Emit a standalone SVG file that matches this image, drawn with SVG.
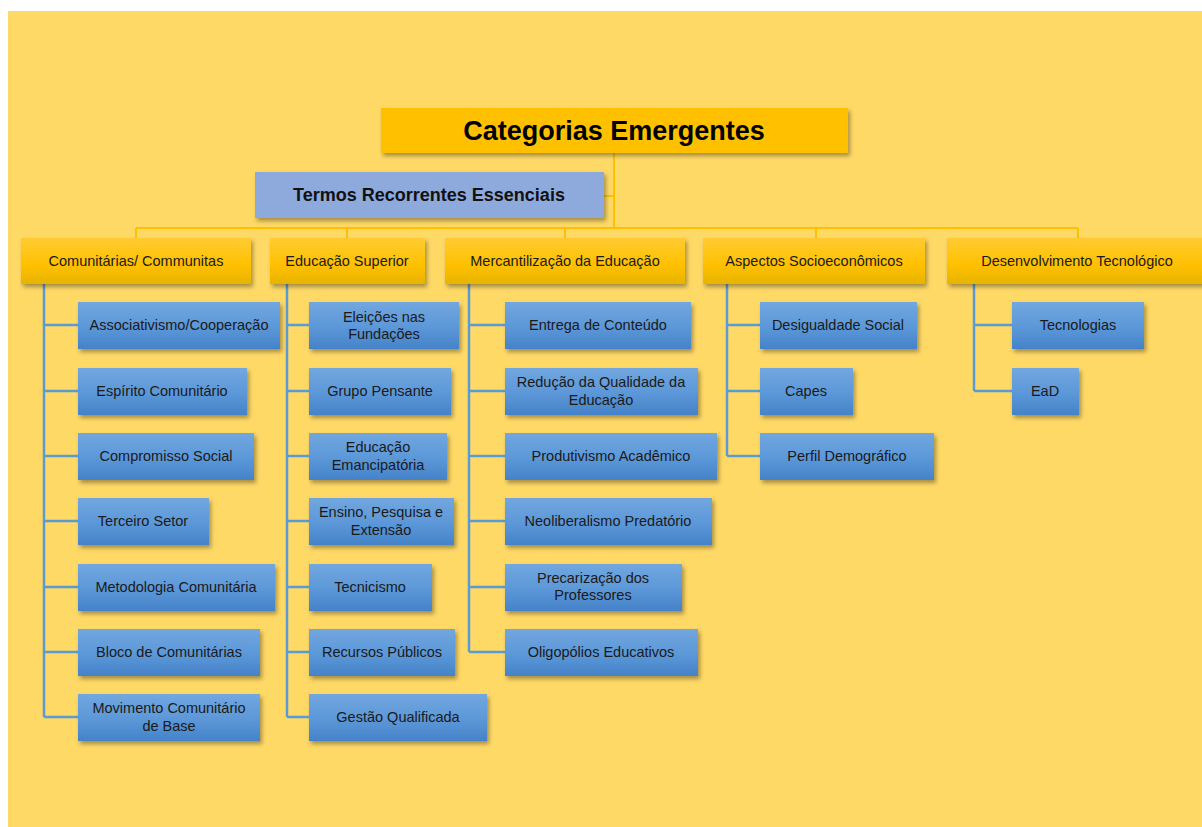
<svg xmlns="http://www.w3.org/2000/svg" width="1202" height="827" viewBox="0 0 1202 827">
<defs>
<linearGradient id="gy" x1="0" y1="0" x2="0" y2="1"><stop offset="0" stop-color="#FFCB33"/><stop offset="0.6" stop-color="#FFC000"/><stop offset="1" stop-color="#E6B400"/></linearGradient>
<linearGradient id="gb" x1="0" y1="0" x2="0" y2="1"><stop offset="0" stop-color="#72A7DF"/><stop offset="0.55" stop-color="#5B97D8"/><stop offset="1" stop-color="#4582C8"/></linearGradient>
<filter id="sh" x="-10%" y="-20%" width="125%" height="160%"><feDropShadow dx="2" dy="3" stdDeviation="2" flood-color="#000" flood-opacity="0.35"/></filter>
</defs>
<style>
.t{font-family:"Liberation Sans",Arial,sans-serif;font-size:14.5px;fill:#1a1a1a;text-anchor:middle}
.b{fill:url(#gb);filter:url(#sh)}
.y{fill:url(#gy);filter:url(#sh)}
.cy{stroke:#FFC000;stroke-width:2;fill:none}
.cb{stroke:#5B9BD5;stroke-width:2.5;fill:none}
</style>
<rect x="8" y="11" width="1194" height="816" fill="#FFD966"/>
<g id="connectors">
<path class="cy" d="M614 153V228M604 196H614M136 228H1078M136 228V238M347 228V238M565 228V238M816 228V238M1078 228V238"/>
<path class="cb" d="M44 284V717M44 325H78M44 391H78M44 456H78M44 521H78M44 587H78M44 652H78M44 717H78"/>
<path class="cb" d="M287 284V717M287 325H309M287 391H309M287 456H309M287 521H309M287 587H309M287 652H309M287 717H309"/>
<path class="cb" d="M469 284V652M469 325H505M469 391H505M469 456H505M469 521H505M469 587H505M469 652H505"/>
<path class="cb" d="M727 284V456M727 325H760M727 391H760M727 456H760"/>
<path class="cb" d="M974 284V391M974 325H1012M974 391H1012"/>
</g>
<g id="title"><rect x="381" y="108" width="467" height="45" fill="#FFC000" filter="url(#sh)"/><text x="614" y="140" style="font-family:'Liberation Sans',Arial,sans-serif;font-size:27px;font-weight:bold;text-anchor:middle;fill:#000">Categorias Emergentes</text></g>
<g id="termos"><rect x="255" y="172" width="349" height="46" fill="#8EA9DB" filter="url(#sh)"/><text x="429" y="201" style="font-family:'Liberation Sans',Arial,sans-serif;font-size:18px;font-weight:bold;text-anchor:middle;fill:#111">Termos Recorrentes Essenciais</text></g>
<g id="c1"><rect class="y" x="21" y="238" width="230" height="46"/><text class="t" x="136" y="266">Comunitárias/ Communitas</text></g>
<g id="c2"><rect class="y" x="270" y="238" width="155" height="46"/><text class="t" x="347" y="266">Educação Superior</text></g>
<g id="c3"><rect class="y" x="445" y="238" width="240" height="46"/><text class="t" x="565" y="266">Mercantilização da Educação</text></g>
<g id="c4"><rect class="y" x="703" y="238" width="222" height="46"/><text class="t" x="814" y="266">Aspectos Socioeconômicos</text></g>
<g id="c5"><rect class="y" x="947" y="238" width="262" height="46"/><text class="t" x="1077" y="266">Desenvolvimento Tecnológico</text></g>

<g id="n1a"><rect class="b" x="78" y="302" width="202" height="47"/><text class="t" x="179" y="330">Associativismo/Cooperação</text></g>
<g id="n1b"><rect class="b" x="78" y="368" width="169" height="47"/><text class="t" x="162" y="396">Espírito Comunitário</text></g>
<g id="n1c"><rect class="b" x="78" y="433" width="176" height="47"/><text class="t" x="166" y="461">Compromisso Social</text></g>
<g id="n1d"><rect class="b" x="78" y="498" width="131" height="47"/><text class="t" x="143" y="526">Terceiro Setor</text></g>
<g id="n1e"><rect class="b" x="78" y="564" width="197" height="47"/><text class="t" x="176" y="592">Metodologia Comunitária</text></g>
<g id="n1f"><rect class="b" x="78" y="629" width="182" height="47"/><text class="t" x="169" y="657">Bloco de Comunitárias</text></g>
<g id="n1g"><rect class="b" x="78" y="694" width="182" height="47"/><text class="t" x="169" y="713">Movimento Comunitário</text><text class="t" x="169" y="731">de Base</text></g>

<g id="n2a"><rect class="b" x="309" y="302" width="150" height="47"/><text class="t" x="384" y="322">Eleições nas</text><text class="t" x="384" y="339">Fundações</text></g>
<g id="n2b"><rect class="b" x="309" y="368" width="142" height="47"/><text class="t" x="380" y="396">Grupo Pensante</text></g>
<g id="n2c"><rect class="b" x="309" y="433" width="138" height="47"/><text class="t" x="378" y="452">Educação</text><text class="t" x="378" y="470">Emancipatória</text></g>
<g id="n2d"><rect class="b" x="309" y="498" width="145" height="47"/><text class="t" x="381" y="517">Ensino, Pesquisa e</text><text class="t" x="381" y="535">Extensão</text></g>
<g id="n2e"><rect class="b" x="309" y="564" width="123" height="47"/><text class="t" x="370" y="592">Tecnicismo</text></g>
<g id="n2f"><rect class="b" x="309" y="629" width="146" height="47"/><text class="t" x="382" y="657">Recursos Públicos</text></g>
<g id="n2g"><rect class="b" x="309" y="694" width="178" height="47"/><text class="t" x="398" y="722">Gestão Qualificada</text></g>

<g id="n3a"><rect class="b" x="505" y="302" width="186" height="47"/><text class="t" x="598" y="330">Entrega de Conteúdo</text></g>
<g id="n3b"><rect class="b" x="505" y="368" width="193" height="47"/><text class="t" x="601" y="387">Redução da Qualidade da</text><text class="t" x="601" y="405">Educação</text></g>
<g id="n3c"><rect class="b" x="505" y="433" width="212" height="47"/><text class="t" x="611" y="461">Produtivismo Acadêmico</text></g>
<g id="n3d"><rect class="b" x="505" y="498" width="207" height="47"/><text class="t" x="608" y="526">Neoliberalismo Predatório</text></g>
<g id="n3e"><rect class="b" x="505" y="564" width="177" height="47"/><text class="t" x="593" y="583">Precarização dos</text><text class="t" x="593" y="600">Professores</text></g>
<g id="n3f"><rect class="b" x="505" y="629" width="193" height="47"/><text class="t" x="601" y="657">Oligopólios Educativos</text></g>

<g id="n4a"><rect class="b" x="760" y="302" width="157" height="47"/><text class="t" x="838" y="330">Desigualdade Social</text></g>
<g id="n4b"><rect class="b" x="760" y="368" width="93" height="47"/><text class="t" x="806" y="396">Capes</text></g>
<g id="n4c"><rect class="b" x="760" y="433" width="174" height="47"/><text class="t" x="847" y="461">Perfil Demográfico</text></g>

<g id="n5a"><rect class="b" x="1012" y="302" width="132" height="47"/><text class="t" x="1078" y="330">Tecnologias</text></g>
<g id="n5b"><rect class="b" x="1012" y="368" width="67" height="47"/><text class="t" x="1045" y="396">EaD</text></g>
</svg>
